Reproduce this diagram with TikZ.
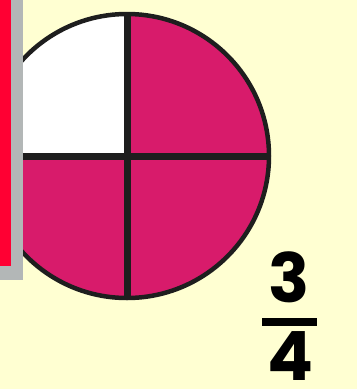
\documentclass[tikz,border=0pt]{standalone}
\usepackage{fontspec}
\newfontfamily\fracfont{Poppins}
\definecolor{bgyellow}{HTML}{FFFFD2}
\definecolor{pie}{HTML}{D81B6B}
\definecolor{ink}{HTML}{1E1E1E}
\definecolor{stripred}{HTML}{FF0033}
\definecolor{stripgray}{HTML}{B3B7B7}
\tikzset{
  divider/.style={draw=ink, line width=7pt},
  digit/.style={font=\fracfont\bfseries\fontsize{68}{68}\selectfont, text=black, inner sep=0pt}
}
\begin{document}
\begin{tikzpicture}[x=1pt,y=-1pt]
\fill[bgyellow] (0,0) rectangle (357,389);
\useasboundingbox (0,0) rectangle (357,389);
\coordinate (c) at (127,156);
\fill[pie] (c) circle[radius=142];
\begin{scope}
  \clip (c) circle[radius=142];
  \fill[white] (-20,0) rectangle (c);
\end{scope}
\draw[divider] (-15,156) -- (269,156);
\draw[divider] (127,14) -- (127,298);
\draw[ink, line width=4.5pt] (c) circle[radius=142];
\fill[stripgray] (0,0) rectangle (23,280);
\fill[stripred] (0,0) rectangle (11,266);
\node[digit] (num) at (289,277) {3};
\coordinate (barL) at (262,322);
\coordinate (barR) at (317,322);
\draw[black, line width=8pt] (barL) -- (barR);
\node[digit] (den) at (291,356) {4};
\end{tikzpicture}
\end{document}
